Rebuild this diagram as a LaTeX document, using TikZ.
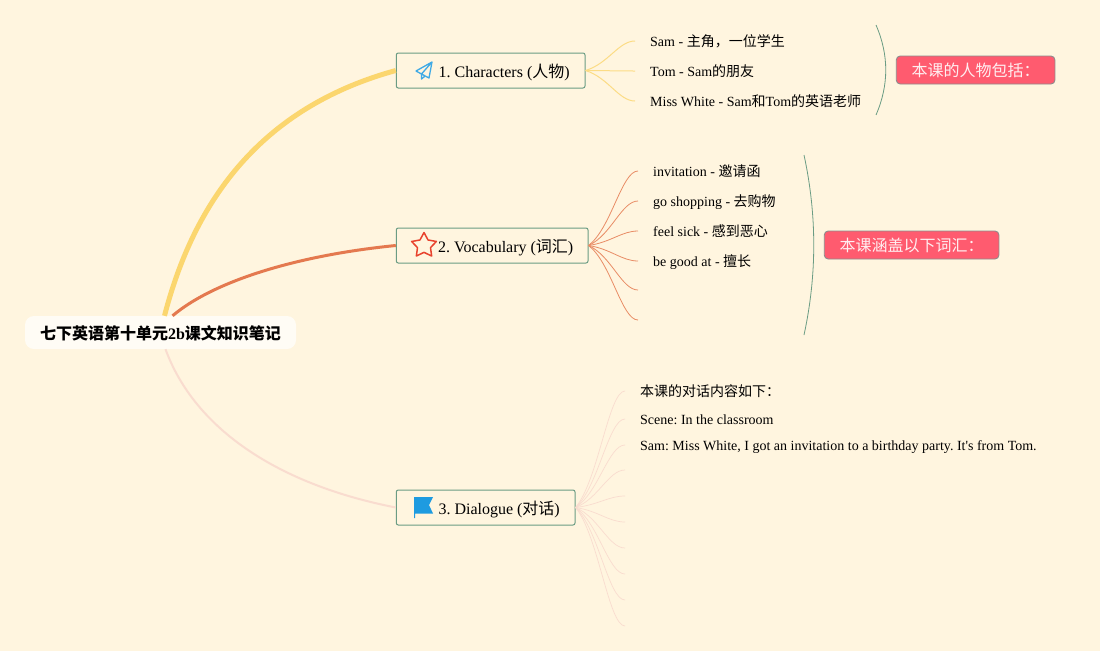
\documentclass[tikz,border=0pt]{standalone}
\usepackage{fontspec}
\setmainfont{Liberation Serif}
\newfontfamily\plainfont{Liberation Serif}
\newfontfamily\cjk{Noto Sans CJK SC}
\frenchspacing
\usetikzlibrary{calc,positioning,shapes.geometric}
\definecolor{pagebg}{HTML}{FFF5DF}
\definecolor{boxgreen}{HTML}{6B9C84}
\definecolor{yellowline}{HTML}{FBD66E}
\definecolor{orangeline}{HTML}{E4794F}
\definecolor{paleline}{HTML}{F9DCCF}
\definecolor{pinkfill}{HTML}{FF5B6F}
\definecolor{iconblue}{HTML}{1E9BE0}
\definecolor{iconred}{HTML}{E8432E}

\begin{document}
\begin{tikzpicture}[x=1pt,y=-1pt,
  rootbox/.style={fill=white!70!pagebg,rounded corners=9pt,minimum width=271pt,minimum height=33pt,inner sep=0pt,text height=15pt,text depth=1pt,font=\fontsize{16}{18}\selectfont\bfseries},
  topic/.style={draw=boxgreen,line width=1pt,rounded corners=2pt,minimum height=35pt,inner sep=0pt,text height=15pt,text depth=1pt,anchor=west,font=\fontsize{16}{18}\selectfont},
  leaf/.style={anchor=west,inner sep=0pt,inner xsep=15pt,text height=11pt,text depth=1pt,font=\fontsize{14}{16}\selectfont},
  note/.style={draw=black!45,line width=.9pt,fill=pinkfill,text=white!90!pinkfill,rounded corners=4pt,minimum height=28pt,inner sep=0pt,anchor=west,font=\fontsize{16}{18}\selectfont},
  twig/.style={to path={let \p1=(\tikztostart),\p2=(\tikztotarget) in .. controls (\x1+.46*\x2-.46*\x1,\y1+.23*\y2-.23*\y1) and (\x2-.33*\x2+.33*\x1,\y2) .. (\p2)}},
  twigy/.style={twig,draw=yellowline!80!pagebg,line width=1pt},
  twigo/.style={twig,draw=orangeline!85!pagebg,line width=.8pt},
  twigp/.style={twig,draw=paleline,line width=.7pt},
  brace/.style={draw=boxgreen,line width=.8pt}]
\path[fill=pagebg,use as bounding box] (0,0) rectangle (1100,651);

\node[rootbox] (root) at (160.5,332.5) {{\cjk 七下英语第十单元}2b{\cjk 课文知识笔记}};
\node[topic,minimum width=188.7pt] (chars) at (395.8,70.5) {\hspace*{27pt}1. Characters ({\cjk 人物})};
\node[topic,minimum width=191.7pt] (vocab) at (395.8,245.5) {\hspace*{27pt}2. Vocabulary ({\cjk 词汇})};
\node[topic,minimum width=178.7pt] (dial) at (395.8,507.5) {\hspace*{27pt}3. Dialogue ({\cjk 对话})};

\draw[draw=yellowline,line width=5pt] ([xshift=4pt]root.north) .. controls (197,190) and (270,105) .. (chars.west);
\draw[draw=orangeline,line width=3pt] ([xshift=12pt]root.north) .. controls (215,280) and (300,255) .. (vocab.west);
\draw[draw=paleline,line width=2pt] ([xshift=5pt]root.south) .. controls (195,430) and (280,485) .. (dial.west);

\draw[draw=iconblue!85!white,line width=1.3pt,line join=round] (432,62) -- (416,71) -- (421.5,74) -- (432,62) -- (429,78) -- (421.5,74) -- (421.5,79) -- (424.5,76.5);
\node[star,star points=5,star point ratio=1.9,draw=iconred,line width=1.5pt,line join=round,minimum size=26pt,inner sep=0pt] (staricon) at (424,245.5) {};
\fill[iconblue] (414,497) -- (433,497) -- (429,505) -- (433,513.5) -- (415,513.5) -- (415,518) -- (414,518) -- cycle;

\node[leaf] (sam) at (635,41) {Sam - {\cjk 主角，一位学生}};
\node[leaf] (tom) at (635,71) {Tom - Sam{\cjk 的朋友}};
\node[leaf] (white) at (635,101) {Miss White - Sam{\cjk 和}Tom{\cjk 的英语老师}};
\draw[twigy] (chars.east) to (sam.west);
\draw[twigy] (chars.east) to (tom.west);
\draw[twigy] (chars.east) to (white.west);

\node[leaf] (invite) at (638,171) {invitation - {\cjk 邀请函}};
\node[leaf] (shop) at (638,201) {go shopping - {\cjk 去购物}};
\node[leaf] (sick) at (638,231) {feel sick - {\cjk 感到恶心}};
\node[leaf] (good) at (638,261) {be good at - {\cjk 擅长}};
\coordinate (vocabfive) at (638,290);
\coordinate (vocabsix) at (638,320);
\draw[twigo] (vocab.east) to (invite.west);
\draw[twigo] (vocab.east) to (shop.west);
\draw[twigo] (vocab.east) to (sick.west);
\draw[twigo] (vocab.east) to (good.west);
\draw[twigo] (vocab.east) to (vocabfive);
\draw[twigo] (vocab.east) to (vocabsix);

\node[leaf] (talk) at (625,391) {{\cjk 本课的对话内容如下：}};
\node[leaf] (scene) at (625,419) {Scene: In the classroom};
\node[leaf] (line) at (625,445) {Sam: Miss White, I got an invitation to a birthday party. It{\plainfont '}s from Tom.};
\coordinate (dialfour) at (625,470);
\coordinate (dialfive) at (625,496);
\coordinate (dialsix) at (625,522);
\coordinate (dialseven) at (625,548);
\coordinate (dialeight) at (625,574);
\coordinate (dialnine) at (625,600);
\coordinate (dialten) at (625,626);
\draw[twigp] (dial.east) to (talk.west);
\draw[twigp] (dial.east) to (scene.west);
\draw[twigp] (dial.east) to (line.west);
\draw[twigp] (dial.east) to (dialfour);
\draw[twigp] (dial.east) to (dialfive);
\draw[twigp] (dial.east) to (dialsix);
\draw[twigp] (dial.east) to (dialseven);
\draw[twigp] (dial.east) to (dialeight);
\draw[twigp] (dial.east) to (dialnine);
\draw[twigp] (dial.east) to (dialten);

\node[note,minimum width=158.7pt] (noteone) at (895.8,70) {{\cjk 本课的人物包括：}};
\node[note,minimum width=174.7pt] (notetwo) at (823.8,245) {{\cjk 本课涵盖以下词汇：}};
\coordinate (braceonetop) at (876,25);
\coordinate (braceonebot) at (876,115);
\coordinate (bracetwotop) at (804,155);
\coordinate (bracetwobot) at (804,335);
\draw[brace] (braceonetop) .. controls (889,55) and (889,85) .. (braceonebot);
\draw[brace] (bracetwotop) .. controls (817,215) and (817,275) .. (bracetwobot);
\end{tikzpicture}
\end{document}
